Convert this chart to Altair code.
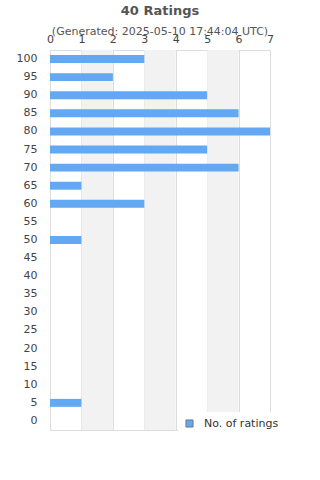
import altair as alt
import pandas as pd

ratings = ["100", "95", "90", "85", "80", "75", "70", "65", "60", "55", "50",
           "45", "40", "35", "30", "25", "20", "15", "10", "5", "0"]
counts = [3, 2, 5, 6, 7, 5, 6, 1, 3, 0, 1, 0, 0, 0, 0, 0, 0, 0, 0, 1, 0]
band_start = [1, 3, 5]
band_end = [2, 4, 6]

FONT = "DejaVu Sans"
BAR = "#62a8f2"

bars_df = pd.DataFrame({"rating": ratings, "count": counts})
bands_df = pd.DataFrame({"a": band_start, "b": band_end})

xscale = alt.Scale(domain=[0, 7], nice=False)
xaxis = alt.Axis(orient="top", title=None, values=list(range(8)),
                 ticks=False, domain=False, grid=True,
                 gridColor="#dddddd", gridWidth=1,
                 labelFont=FONT, labelFontSize=11, labelColor="#444",
                 labelPadding=6, labelFlush=False, labelOverlap=False)

bands = alt.Chart(bands_df).mark_rect(color="#f2f2f2").encode(
    x=alt.X("a:Q", scale=xscale, axis=xaxis),
    x2="b:Q",
)

bars = alt.Chart(bars_df).mark_bar(color=BAR).encode(
    y=alt.Y("rating:N", sort=ratings,
            scale=alt.Scale(paddingInner=0.56, paddingOuter=0.28),
            axis=alt.Axis(title=None, ticks=False, domain=False, grid=False,
                          labelFont=FONT, labelFontSize=11, labelColor="#444",
                          labelPadding=13)),
    x=alt.X("count:Q", scale=xscale, axis=xaxis),
    color=alt.Color("series:N", scale=alt.Scale(domain=["No. of ratings"], range=[BAR]),
                    legend=alt.Legend(title=None, orient="none", legendX=128, legendY=362,
                                      fillColor="white", padding=6,
                                      symbolType="square", symbolSize=50,
                                      symbolStrokeColor="#777", symbolStrokeWidth=1,
                                      labelFont=FONT, labelFontSize=11, labelColor="#333",
                                      labelOffset=9)),
).transform_calculate(series="'No. of ratings'")

chart = alt.layer(bands, bars).properties(
    width=220, height=380,
    padding={"left": 50, "top": 50, "right": 50, "bottom": 50},
    autosize=alt.AutoSizeParams(type="none"),
    title=alt.TitleParams(
        text="40 Ratings",
        subtitle="(Generated: 2025-05-10 17:44:04 UTC)",
        font=FONT, fontSize=13, fontWeight="bold", color="#555",
        subtitleFont=FONT, subtitleFontSize=11, subtitleColor="#555",
        subtitlePadding=8, anchor="middle", offset=-4,
    ),
).configure_view(stroke="#dddddd", strokeWidth=1).configure_axis(
    labelOverlap=False
).configure(background="white")

chart.save("out.html", embed_options={"renderer": "svg", "actions": False})
